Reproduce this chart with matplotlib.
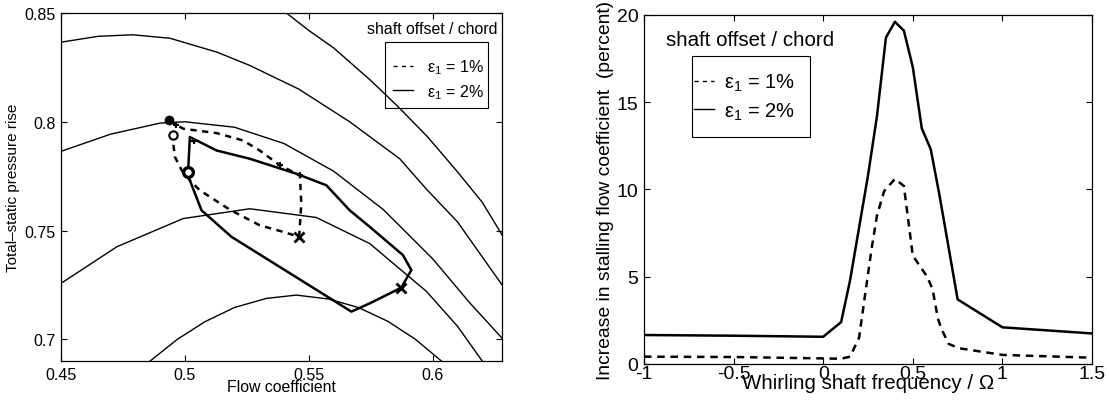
import matplotlib
matplotlib.use("Agg")
import matplotlib.pyplot as plt
from matplotlib.lines import Line2D
from matplotlib.patches import Rectangle
from matplotlib.ticker import FormatStrFormatter
plt.rcParams.update({"font.family":["Liberation Sans","DejaVu Sans"],"mathtext.default":"regular",
                     "axes.linewidth":0.9,"xtick.direction":"in","ytick.direction":"in",
                     "xtick.top":True,"ytick.right":True,"xtick.major.size":4,"ytick.major.size":4})

# --- left: compressor speedlines (flow coeff, pressure rise) ---
spd_a_x=[0.541,0.55,0.56,0.575,0.586,0.598,0.61,0.62,0.628]
spd_a_y=[0.850,0.842,0.834,0.819,0.807,0.793,0.777,0.763,0.748]
spd_b_x=[0.45,0.465,0.479,0.494,0.513,0.526,0.546,0.5665,0.5867,0.5975,0.61,0.628]
spd_b_y=[0.8366,0.8393,0.840,0.8384,0.832,0.826,0.815,0.800,0.783,0.769,0.754,0.725]
spd_c_x=[0.45,0.47,0.49,0.50,0.52,0.54,0.56,0.58,0.60,0.615,0.628]
spd_c_y=[0.7864,0.7943,0.7994,0.800,0.7975,0.790,0.7773,0.7597,0.737,0.7167,0.7005]
spd_d_x=[0.45,0.4725,0.4993,0.5262,0.553,0.5746,0.5975,0.61,0.62]
spd_d_y=[0.7257,0.7425,0.7555,0.760,0.756,0.744,0.722,0.706,0.690]
spd_e_x=[0.486,0.497,0.508,0.52,0.533,0.545,0.558,0.57,0.582,0.593,0.6035]
spd_e_y=[0.690,0.700,0.708,0.7146,0.7188,0.7203,0.7185,0.7146,0.7082,0.700,0.690]
# orbits for the two shaft offsets
orb1_x=[0.4937,0.4993,0.5128,0.5235,0.5302,0.5383,0.5464,0.5470,0.5461,0.5396,0.5302,0.5181,0.5060,0.5020,0.4987,0.4960,0.4953,0.4953]
orb1_y=[0.8006,0.7968,0.7948,0.7914,0.7868,0.7800,0.7754,0.7624,0.7471,0.7494,0.7524,0.7596,0.7685,0.7731,0.7777,0.7838,0.7899,0.7937]
orb2_x=[0.5013,0.502,0.5128,0.5262,0.545,0.5571,0.5665,0.5746,0.588,0.5914,0.5873,0.5746,0.5672,0.5188,0.5067,0.502,0.5013]
orb2_y=[0.7769,0.793,0.7868,0.783,0.7761,0.7708,0.7593,0.7517,0.7387,0.7318,0.7237,0.7165,0.7127,0.7471,0.7593,0.7731,0.7769]
dot_pt=(0.4937,0.8006); open_pt=(0.4953,0.7937); ring_pt=(0.5013,0.7769)
cross_x=[0.5461,0.5873]; cross_y=[0.7471,0.7237]
plus_x=[0.4965,0.5035,0.5383,0.5464]; plus_y=[0.7985,0.7912,0.7800,0.7754]

# --- right: stall margin vs whirl frequency ---
whirl=[-1.0,-0.5,0.0,0.1,0.15,0.2,0.25,0.3,0.35,0.4,0.45,0.5,0.55,0.6,0.65,0.75,1.0,1.5]
inc2=[1.66,1.62,1.56,2.4,4.8,7.8,10.8,14.2,18.7,19.6,19.1,17.0,13.5,12.3,9.6,3.7,2.1,1.75]
whirl1=[-1.0,-0.5,0.0,0.1,0.15,0.2,0.23,0.27,0.3,0.34,0.4,0.45,0.48,0.5,0.58,0.61,0.64,0.66,0.7,0.76,1.0,1.5]
inc1=[0.42,0.40,0.32,0.30,0.42,1.5,3.7,6.6,8.5,9.9,10.6,10.2,7.8,6.2,5.0,4.3,2.6,2.0,1.15,0.9,0.52,0.36]
labels=["\u03b5$_1$ = 1%","\u03b5$_1$ = 2%"]

fig=plt.figure(figsize=(11.09,4.06),dpi=100)
ax=fig.add_axes([0.055,0.1084,0.3977,0.857])
for xs,ys in [(spd_a_x,spd_a_y),(spd_b_x,spd_b_y),(spd_c_x,spd_c_y),(spd_d_x,spd_d_y),(spd_e_x,spd_e_y)]:
    ax.plot(xs,ys,"-",color="k",lw=1.0)
ax.plot(orb1_x,orb1_y,color="k",lw=1.8,ls=(0,(2.5,2.2)))
ax.plot(orb2_x,orb2_y,"-",color="k",lw=1.8)
ax.plot(*dot_pt,"o",ms=6,color="k")
ax.plot(*open_pt,"o",ms=6,mfc="white",mec="k",mew=1.5)
ax.plot(*ring_pt,"o",ms=7,mfc="white",mec="k",mew=2.4)
ax.plot(cross_x,cross_y,"x",ms=7,mew=2,color="k")
ax.plot(plus_x,plus_y,"+",ms=5,mew=1.5,color="k")
ax.set_xlim(0.45,0.628); ax.set_ylim(0.69,0.85)
ax.set_xticks([0.45,0.5,0.55,0.6]); ax.set_yticks([0.7,0.75,0.8,0.85])
ax.xaxis.set_major_formatter(FormatStrFormatter("%g")); ax.yaxis.set_major_formatter(FormatStrFormatter("%g"))
ax.tick_params(labelsize=11.5,pad=4)
ax.set_xlabel("Flow coefficient",fontsize=11.4,labelpad=-2)
ax.set_ylabel("Total\u2013static pressure rise",fontsize=11,labelpad=3)
ax.text(0.99,0.955,"shaft offset / chord",transform=ax.transAxes,ha="right",va="center",fontsize=11.4)
ax.add_patch(Rectangle((0.735,0.726),0.233,0.19,transform=ax.transAxes,fill=False,lw=0.8,ec="k",zorder=5))
h=[Line2D([],[],color="k",lw=1.0,ls=(0,(3,3))),Line2D([],[],color="k",lw=1.0)]
ax.legend(h,labels,loc="upper left",bbox_to_anchor=(0.753,0.872),fontsize=11.5,frameon=False,
          handlelength=1.25,borderpad=0,labelspacing=0.35,handletextpad=0.9,borderaxespad=0)

ax2=fig.add_axes([0.5807,0.101,0.404,0.860])
ax2.plot(whirl1,inc1,color="k",lw=1.8,ls=(0,(3,2.3)))
ax2.plot(whirl,inc2,"-",color="k",lw=1.8)
ax2.set_xlim(-1,1.5); ax2.set_ylim(0,20)
ax2.set_xticks([-1,-0.5,0,0.5,1,1.5]); ax2.set_yticks([0,5,10,15,20])
ax2.xaxis.set_major_formatter(FormatStrFormatter("%g"))
ax2.tick_params(labelsize=14,pad=1)
ax2.tick_params(axis="y",pad=4)
ax2.set_xlabel("Whirling shaft frequency / \u03a9",fontsize=14.8,labelpad=-7)
ax2.set_ylabel("Increase in stalling flow coefficient  (percent)",fontsize=13.9,labelpad=2)
ax2.text(0.05,0.93,"shaft offset / chord",transform=ax2.transAxes,ha="left",va="center",fontsize=14.8)
ax2.add_patch(Rectangle((0.107,0.649),0.263,0.234,transform=ax2.transAxes,fill=False,lw=0.8,ec="k",zorder=5))
h2=[Line2D([],[],color="k",lw=1.0,ls=(0,(3,3))),Line2D([],[],color="k",lw=1.0)]
ax2.legend(h2,labels,loc="upper left",bbox_to_anchor=(0.112,0.836),fontsize=14.5,frameon=False,
           handlelength=1.0,borderpad=0,labelspacing=0.35,handletextpad=0.5,borderaxespad=0)
fig.savefig("out.png",dpi=100)
